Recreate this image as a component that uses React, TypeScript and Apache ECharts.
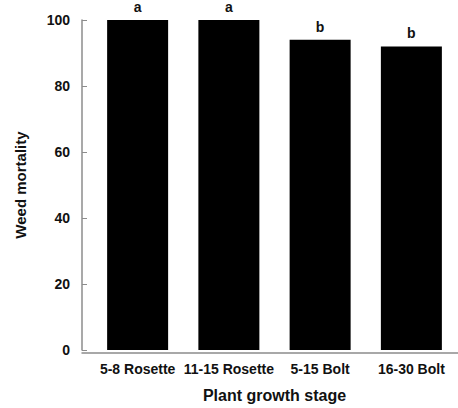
import React, { useEffect, useRef } from "react";
import * as echarts from "echarts";

const categories = ["5-8 Rosette", "11-15 Rosette", "5-15 Bolt", "16-30 Bolt"];
const mortality = [100, 100, 94, 92];
const letters = ["a", "a", "b", "b"];
const yTicks = [0, 20, 40, 60, 80, 100];

const FONT = "Arial, 'Liberation Sans', sans-serif";
const AXIS_GREY = "#8c8c8c";

export default function App() {
  const ref = useRef<HTMLDivElement>(null);
  useEffect(() => {
    document.body.style.margin = "0";
    if (!ref.current) return;
    const chart = echarts.init(ref.current, undefined, { renderer: "svg" });
    chart.setOption({
      animation: false,
      backgroundColor: "#ffffff",
      grid: [
        { left: 92, right: 1, top: 20, bottom: 55 },
        { left: 82, right: 0, top: 20, bottom: 55 },
      ],
      xAxis: [
        {
          type: "category",
          gridIndex: 0,
          data: categories,
          axisLine: { show: false },
          axisTick: { show: false },
          axisLabel: {
            color: "#111",
            fontFamily: FONT,
            fontWeight: "bold",
            fontSize: 14,
            margin: 12,
            interval: 0,
          },
          name: "Plant growth stage",
          nameLocation: "middle",
          nameGap: 37,
          nameTextStyle: { color: "#111", fontFamily: FONT, fontWeight: "bold", fontSize: 16 },
        },
        {
          type: "value",
          gridIndex: 1,
          min: 0,
          max: 1,
          axisLine: { show: true, onZero: false, lineStyle: { color: AXIS_GREY, width: 1.5 } },
          axisTick: { show: false },
          axisLabel: { show: false },
          splitLine: { show: false },
        },
      ],
      yAxis: [
        {
          type: "value",
          gridIndex: 0,
          min: yTicks[0],
          max: yTicks[yTicks.length - 1],
          interval: 20,
          offset: 10,
          axisLine: { show: true, lineStyle: { color: AXIS_GREY, width: 1.5 } },
          axisTick: { show: true, inside: true, length: 5, lineStyle: { color: AXIS_GREY, width: 1 } },
          splitLine: { show: false },
          axisLabel: {
            color: "#111",
            fontFamily: FONT,
            fontWeight: "bold",
            fontSize: 14,
            margin: 12,
          },
          name: "Weed mortality",
          nameLocation: "middle",
          nameGap: 54,
          nameTextStyle: { color: "#111", fontFamily: FONT, fontWeight: "bold", fontSize: 15 },
        },
        {
          type: "value",
          gridIndex: 1,
          show: false,
          min: 0,
          max: 1,
        },
      ],
      series: [
        {
          type: "bar",
          xAxisIndex: 0,
          yAxisIndex: 0,
          data: mortality,
          barWidth: 61,
          itemStyle: { color: "#000000" },
          label: {
            show: true,
            position: "top",
            distance: 6,
            formatter: (p: any) => letters[p.dataIndex],
            color: "#111",
            fontFamily: FONT,
            fontWeight: "bold",
            fontSize: 14,
          },
        },
      ],
    });
    return () => chart.dispose();
  }, []);
  return <div ref={ref} style={{ width: 458, height: 408 }} />;
}
